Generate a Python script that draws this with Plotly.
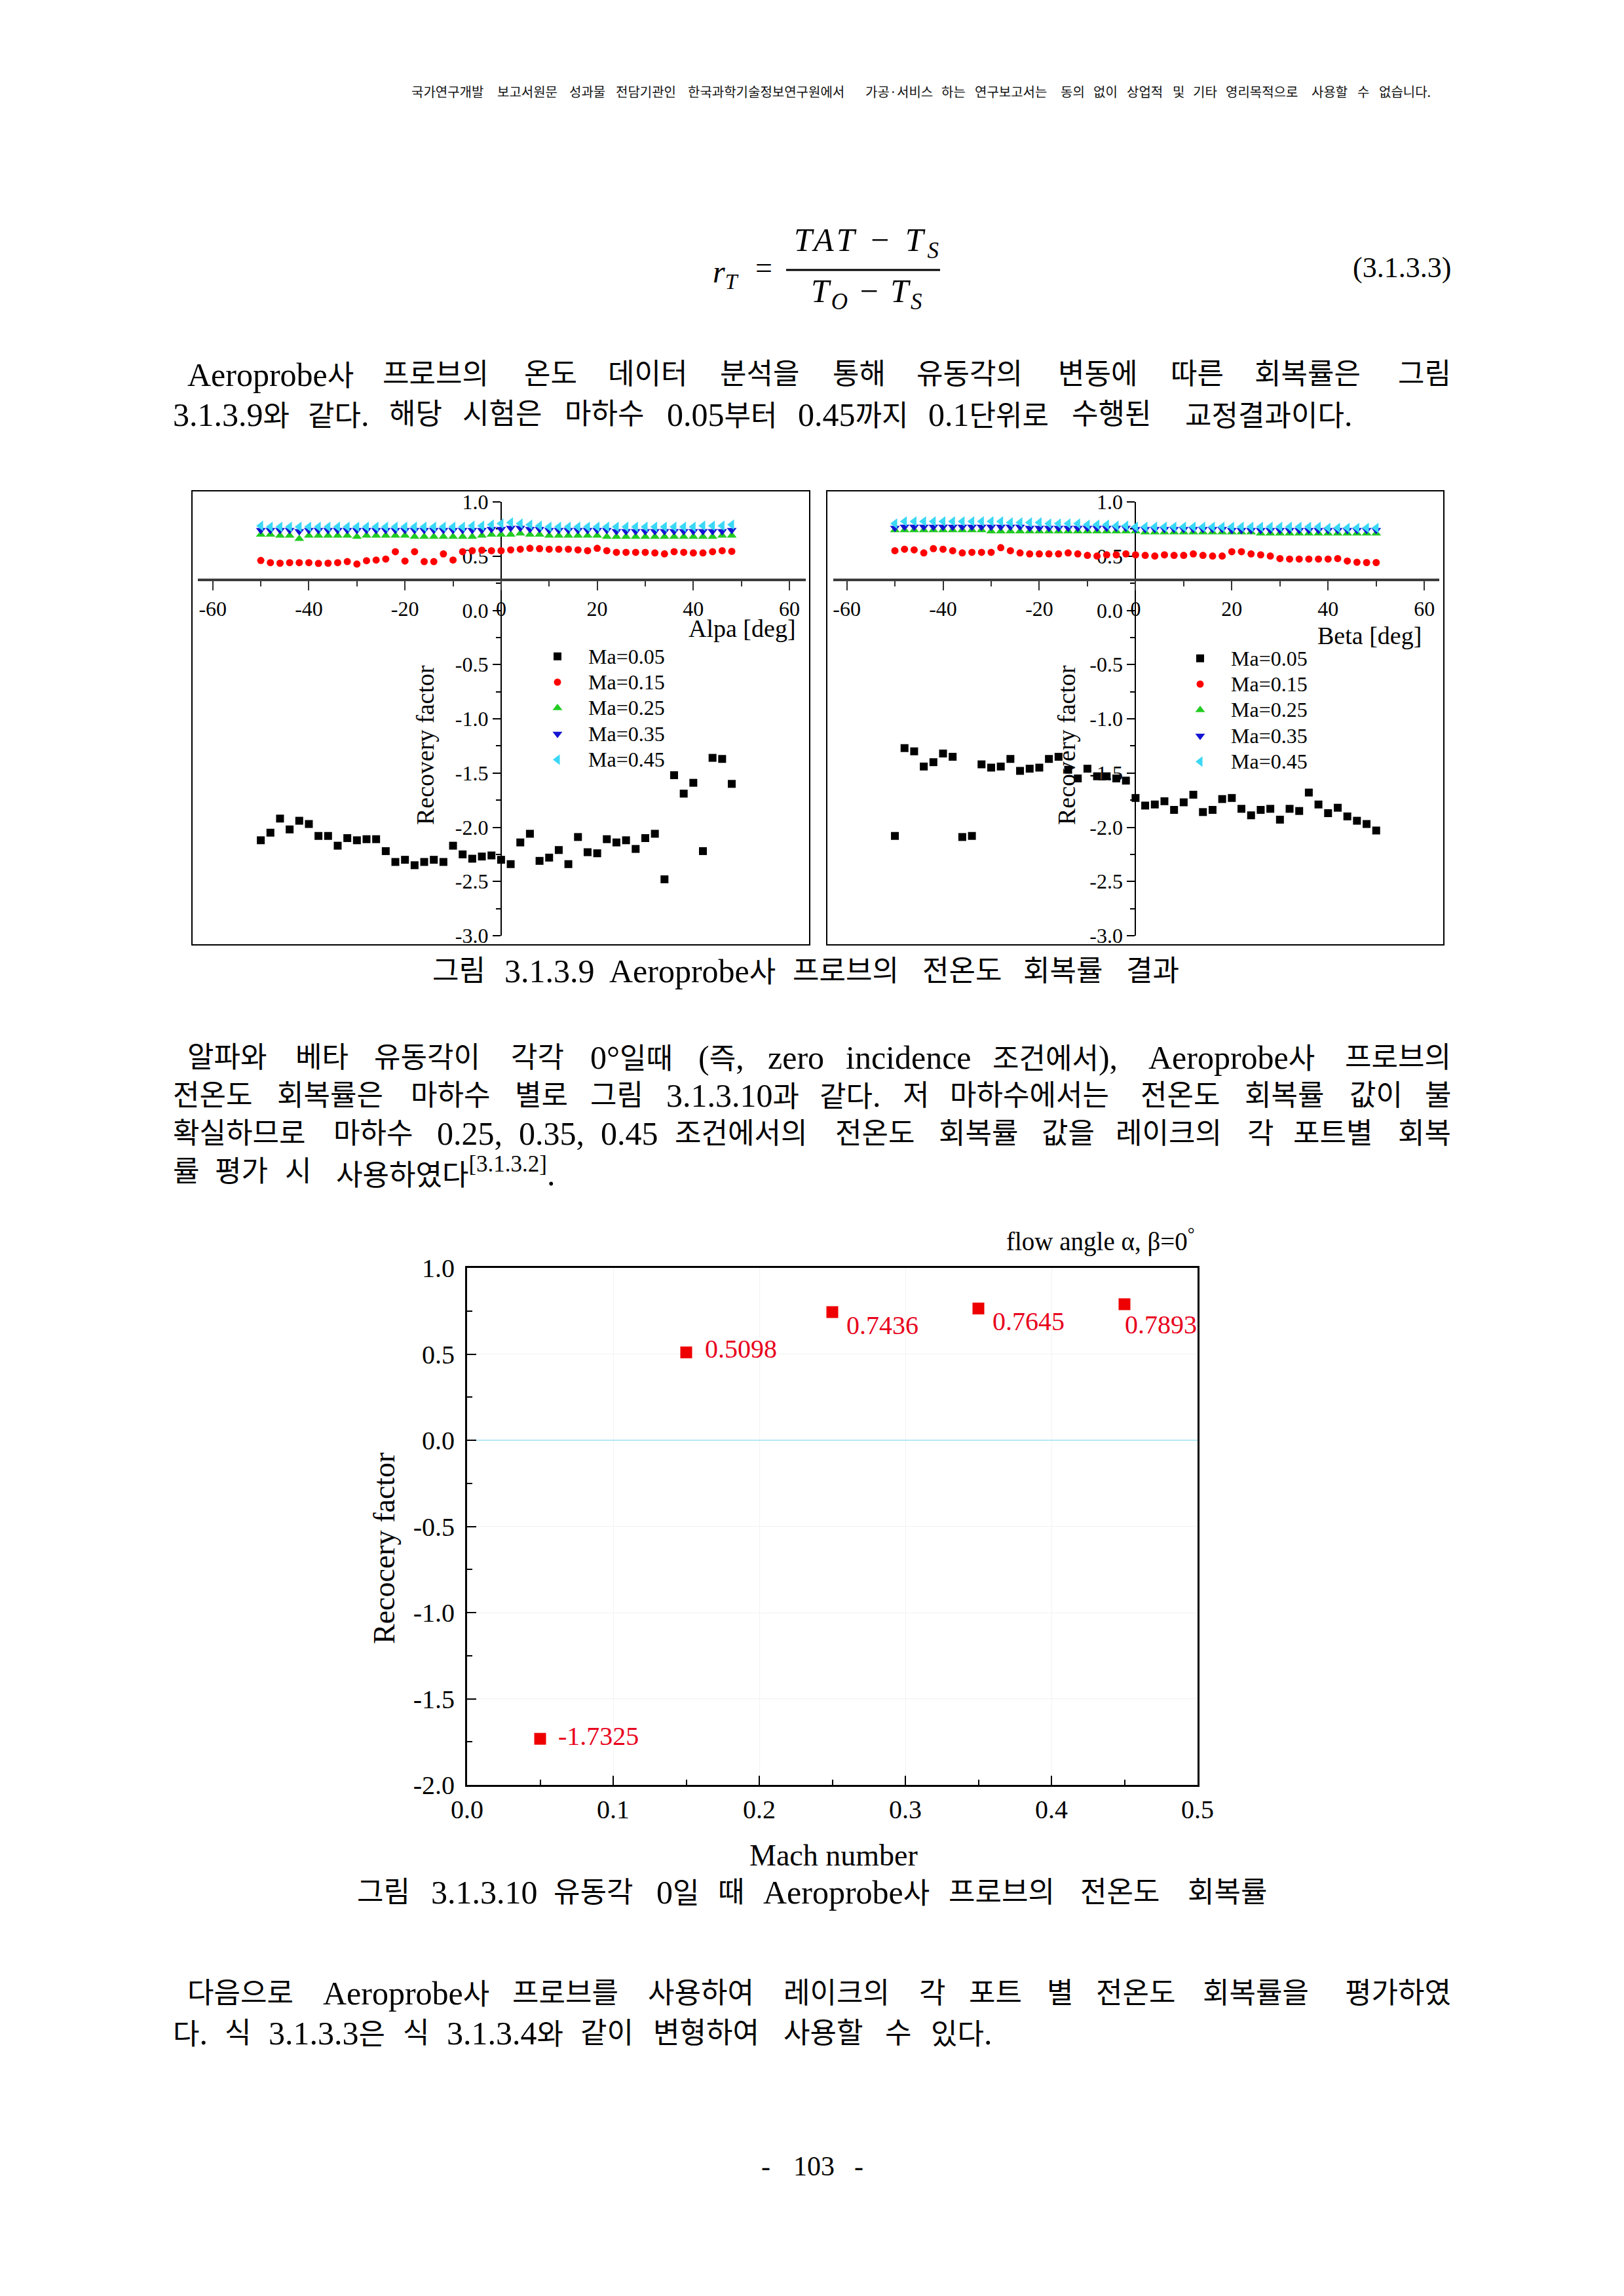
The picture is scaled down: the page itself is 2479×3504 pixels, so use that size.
import re
import plotly.graph_objects as go

W, H = 2479, 3504

# ------------------------------------------------------------------ data
SERIES_NAMES = ["Ma=0.05", "Ma=0.15", "Ma=0.25", "Ma=0.35", "Ma=0.45"]

ALPHA_DEG = [-50, -48, -46, -44, -42, -40, -38, -36, -34, -32,
             -30, -28, -26, -24, -22, -20, -18, -16, -14, -12,
             -10, -8, -6, -4, -2, 0, 2, 4, 6, 8,
             10, 12, 14, 16, 18, 20, 22, 24, 26, 28,
             30, 32, 34, 36, 38, 40, 42, 44, 46, 48]

A_MA005 = [-2.12, -2.05, -1.92, -2.02, -1.94, -1.97, -2.08, -2.08, -2.17, -2.10,
           -2.12, -2.11, -2.11, -2.22, -2.32, -2.30, -2.35, -2.32, -2.30, -2.32,
           -2.17, -2.25, -2.29, -2.27, -2.26, -2.30, -2.34, -2.14, -2.06, -2.31,
           -2.28, -2.21, -2.34, -2.09, -2.23, -2.24, -2.11, -2.14, -2.12, -2.20,
           -2.10, -2.06, -2.48, -1.52, -1.69, -1.59, -2.22, -1.36, -1.37, -1.60]
A_MA015 = [0.46, 0.44, 0.435, 0.44, 0.44, 0.44, 0.433, 0.435, 0.44, 0.45,
           0.427, 0.458, 0.464, 0.473, 0.541, 0.455, 0.541, 0.45, 0.45, 0.521,
           0.464, 0.541, 0.55, 0.555, 0.55, 0.55, 0.558, 0.564, 0.572, 0.569,
           0.564, 0.564, 0.564, 0.558, 0.55, 0.572, 0.55, 0.535, 0.535, 0.535,
           0.535, 0.53, 0.521, 0.541, 0.535, 0.53, 0.53, 0.541, 0.55, 0.544]
A_MA025 = [0.70, 0.70, 0.69, 0.69, 0.66, 0.69, 0.69, 0.69, 0.69, 0.69,
           0.68, 0.69, 0.69, 0.69, 0.69, 0.69, 0.68, 0.68, 0.68, 0.68,
           0.68, 0.68, 0.68, 0.69, 0.70, 0.70, 0.70, 0.71, 0.70, 0.70,
           0.69, 0.69, 0.69, 0.69, 0.69, 0.69, 0.68, 0.68, 0.68, 0.68,
           0.68, 0.68, 0.68, 0.68, 0.68, 0.68, 0.68, 0.68, 0.69, 0.69]
A_MA035 = [0.74, 0.74, 0.74, 0.74, 0.73, 0.74, 0.74, 0.74, 0.74, 0.74,
           0.74, 0.74, 0.74, 0.74, 0.74, 0.74, 0.74, 0.74, 0.74, 0.74,
           0.74, 0.74, 0.74, 0.74, 0.75, 0.75, 0.76, 0.76, 0.75, 0.75,
           0.74, 0.74, 0.74, 0.74, 0.74, 0.74, 0.74, 0.73, 0.73, 0.73,
           0.73, 0.73, 0.73, 0.73, 0.73, 0.73, 0.73, 0.73, 0.73, 0.74]
A_MA045 = [0.78, 0.77, 0.77, 0.77, 0.77, 0.77, 0.77, 0.77, 0.77, 0.77,
           0.77, 0.77, 0.77, 0.77, 0.77, 0.77, 0.77, 0.77, 0.77, 0.77,
           0.77, 0.77, 0.78, 0.78, 0.79, 0.80, 0.81, 0.80, 0.79, 0.78,
           0.77, 0.77, 0.77, 0.77, 0.77, 0.77, 0.77, 0.77, 0.77, 0.77,
           0.77, 0.77, 0.77, 0.77, 0.77, 0.77, 0.78, 0.78, 0.78, 0.79]

BETA_DEG = [-50, -48, -46, -44, -42, -40, -38, -36, -34, -32,
            -30, -28, -26, -24, -22, -20, -18, -16, -14, -12,
            -10, -8, -6, -4, -2, 0, 2, 4, 6, 8,
            10, 12, 14, 16, 18, 20, 22, 24, 26, 28,
            30, 32, 34, 36, 38, 40, 42, 44, 46, 48, 50]

B_MA005 = [-2.08, -1.27, -1.30, -1.44, -1.40, -1.32, -1.35, -2.09, -2.08, -1.42,
           -1.45, -1.44, -1.37, -1.48, -1.46, -1.45, -1.37, -1.35, -1.47, -1.55,
           -1.46, -1.53, -1.53, -1.55, -1.57, -1.73, -1.80, -1.79, -1.76, -1.84,
           -1.77, -1.70, -1.86, -1.84, -1.74, -1.73, -1.83, -1.89, -1.84, -1.83,
           -1.93, -1.83, -1.85, -1.68, -1.79, -1.87, -1.82, -1.90, -1.94, -1.97, -2.03]
B_MA015 = [0.55, 0.564, 0.558, 0.53, 0.569, 0.564, 0.55, 0.53, 0.535, 0.535,
           0.535, 0.578, 0.55, 0.53, 0.521, 0.521, 0.521, 0.521, 0.53, 0.521,
           0.507, 0.501, 0.512, 0.512, 0.521, 0.512, 0.507, 0.501, 0.512, 0.507,
           0.507, 0.521, 0.507, 0.501, 0.501, 0.541, 0.541, 0.521, 0.512, 0.501,
           0.478, 0.473, 0.473, 0.473, 0.473, 0.473, 0.478, 0.455, 0.444, 0.441, 0.441]
B_MA025 = [0.74, 0.74, 0.74, 0.74, 0.74, 0.74, 0.74, 0.74, 0.74, 0.74,
           0.73, 0.73, 0.73, 0.73, 0.73, 0.73, 0.73, 0.73, 0.73, 0.73,
           0.73, 0.73, 0.73, 0.73, 0.73, 0.73, 0.72, 0.72, 0.72, 0.72,
           0.72, 0.72, 0.72, 0.72, 0.72, 0.72, 0.72, 0.72, 0.71, 0.71,
           0.71, 0.71, 0.71, 0.71, 0.71, 0.71, 0.71, 0.71, 0.71, 0.71, 0.71]
B_MA035 = [0.76, 0.77, 0.77, 0.77, 0.77, 0.77, 0.77, 0.77, 0.77, 0.77,
           0.77, 0.77, 0.77, 0.77, 0.76, 0.76, 0.76, 0.76, 0.76, 0.76,
           0.76, 0.76, 0.76, 0.76, 0.76, 0.75, 0.75, 0.75, 0.75, 0.75,
           0.75, 0.75, 0.75, 0.75, 0.75, 0.74, 0.74, 0.74, 0.74, 0.74,
           0.74, 0.74, 0.74, 0.74, 0.74, 0.74, 0.74, 0.74, 0.74, 0.74, 0.74]
B_MA045 = [0.80, 0.82, 0.82, 0.82, 0.82, 0.82, 0.82, 0.82, 0.82, 0.82,
           0.82, 0.82, 0.81, 0.81, 0.81, 0.81, 0.80, 0.80, 0.80, 0.80,
           0.79, 0.79, 0.79, 0.78, 0.78, 0.77, 0.77, 0.77, 0.77, 0.77,
           0.77, 0.77, 0.77, 0.77, 0.77, 0.77, 0.77, 0.77, 0.77, 0.77,
           0.77, 0.77, 0.77, 0.77, 0.77, 0.76, 0.76, 0.76, 0.76, 0.76, 0.76]

ANGLE_TICKS = [-60, -40, -20, 0, 20, 40, 60]
ANGLE_MINOR = [-50, -30, -10, 10, 30, 50]
RF_TICKS = [-3.0, -2.5, -2.0, -1.5, -1.0, -0.5, 0.0, 0.5, 1.0]
RF_MINOR = [-2.75, -2.25, -1.75, -1.25, -0.75, -0.25, 0.25, 0.75]

MACH = [0.05, 0.15, 0.25, 0.35, 0.45]
RECOVERY_ZERO = [-1.7325, 0.5098, 0.7436, 0.7645, 0.7893]
MACH_TICKS = [0.0, 0.1, 0.2, 0.3, 0.4, 0.5]
MACH_MINOR = [0.05, 0.15, 0.25, 0.35, 0.45]
RF3_TICKS = [-2.0, -1.5, -1.0, -0.5, 0.0, 0.5, 1.0]
RF3_MINOR = [-1.75, -1.25, -0.75, -0.25, 0.25, 0.75]

# ------------------------------------------------------------------ helpers
SERIF = "Liberation Serif"
BODY = "Liberation Serif, Noto Sans CJK KR"
KR = "Noto Sans CJK KR"


def fx(px):
    return px / W


def fy(py):
    return 1 - py / H


annotations = []
shapes = []


def text(s, x, y, size, anchor="left", family=BODY, color="black", angle=0):
    annotations.append(dict(text=s, x=fx(x), y=fy(y), xref="paper", yref="paper",
                            xanchor=anchor, yanchor="middle", showarrow=False,
                            textangle=angle,
                            font=dict(family=family, size=size, color=color)))


LATIN_W = {'.': 0.25, ',': 0.25, '(': 0.333, ')': 0.333, '[': 0.333, ']': 0.333,
           '°': 0.4, '·': 0.3, 'A': 0.722, 'a': 0.444, 'b': 0.5, 'c': 0.444,
           'd': 0.5, 'e': 0.444, 'i': 0.278, 'n': 0.5, 'o': 0.5, 'p': 0.5,
           'r': 0.333, 'z': 0.444, '-': 0.333}


def is_hangul(ch):
    return '\uac00' <= ch <= '\ud7a3'


def est_width(s, lat, kr):
    total, scale = 0.0, 1.0
    for part in re.split(r'(<sup>|</sup>)', s):
        if part == '<sup>':
            scale = 0.7
            continue
        if part == '</sup>':
            scale = 1.0
            continue
        for ch in part:
            if is_hangul(ch):
                total += kr * scale
            elif ch.isdigit():
                total += 0.5 * lat * scale
            else:
                total += LATIN_W.get(ch, 0.5) * lat * scale
    return total


def kr_wrap(word, kr):
    return re.sub(r'([\uac00-\ud7a3]+)',
                  lambda m: f'<span style="font-size:{kr}px">{m.group(1)}</span>', word)


def line(s, x0, x1, y, lat, kr, family=BODY, color="black"):
    words = s.split(" ")
    widths = [est_width(w, lat, kr) for w in words]
    gap = (x1 - x0 - sum(widths)) / max(len(words) - 1, 1)
    x = x0
    for i, (w, wd) in enumerate(zip(words, widths)):
        t = kr_wrap(w, kr) if kr != lat else w
        if i == len(words) - 1 and len(words) > 1:
            text(t, x1, y, lat, anchor="right", family=family, color=color)
        else:
            text(t, x, y, lat, family=family, color=color)
        x += wd + gap


# ------------------------------------------------------------------ figure
fig = go.Figure()

styles = [
    dict(symbol="square", color="#000000", size=12),
    dict(symbol="circle", color="#ff0000", size=11),
    dict(symbol="triangle-up", color="#22cc22", size=13),
    dict(symbol="triangle-down", color="#1414d2", size=13),
    dict(symbol="triangle-left", color="#3ad8f5", size=14),
]


def legend_label(name):
    return f'<span style="font-size:32px">{name}</span>'


for name, ys, st in zip(SERIES_NAMES, [A_MA005, A_MA015, A_MA025, A_MA035, A_MA045], styles):
    fig.add_trace(go.Scatter(x=ALPHA_DEG, y=ys, mode="markers", name=legend_label(name),
                             marker=dict(symbol=st["symbol"], color=st["color"], size=st["size"],
                                         line=dict(width=0)),
                             xaxis="x", yaxis="y", legend="legend"))

for name, ys, st in zip(SERIES_NAMES, [B_MA005, B_MA015, B_MA025, B_MA035, B_MA045], styles):
    fig.add_trace(go.Scatter(x=BETA_DEG, y=ys, mode="markers", name=legend_label(name),
                             marker=dict(symbol=st["symbol"], color=st["color"], size=st["size"],
                                         line=dict(width=0)),
                             xaxis="x2", yaxis="y2", legend="legend2"))

fig.add_trace(go.Scatter(
    x=MACH, y=RECOVERY_ZERO, mode="markers",
    marker=dict(symbol="square", color="#ee0000", size=18, line=dict(width=0)),
    cliponaxis=False, showlegend=False, xaxis="x3", yaxis="y3"))

# value labels next to each point (pixel offsets from the point)
LABEL_SHIFT = [(25, 4), (26, 5), (19, -20), (19, -20), (-2, -31)]
for xv, yv, (dx, dy) in zip(MACH, RECOVERY_ZERO, LABEL_SHIFT):
    annotations.append(dict(text=f"{yv:.4f}", x=xv, y=yv, xref="x3", yref="y3",
                            xanchor="left", yanchor="middle", xshift=dx, yshift=dy,
                            showarrow=False,
                            font=dict(family=SERIF, size=40, color="#e8001c")))


def angle_axes(xdom_px, xrange, ytop, ybot, cross_val):
    yr = [-3.0, 1.0]
    ypx_cross = ybot - (cross_val - yr[0]) / (yr[1] - yr[0]) * (ybot - ytop)
    xpx_zero = xdom_px[0] + (0 - xrange[0]) / (xrange[1] - xrange[0]) * (xdom_px[1] - xdom_px[0])
    xa = dict(domain=[fx(xdom_px[0]), fx(xdom_px[1])], range=xrange, anchor="free",
              position=fy(ypx_cross), side="bottom", showline=True, linecolor="#3c3c3c",
              linewidth=4, ticks="outside", ticklen=14, tickwidth=2, tickcolor="#333333",
              tickvals=ANGLE_TICKS, ticktext=[str(v) for v in ANGLE_TICKS],
              tickfont=dict(family=SERIF, size=32, color="black"),
              minor=dict(tickvals=ANGLE_MINOR, ticks="outside", ticklen=8, tickwidth=2,
                         tickcolor="#333333"),
              showgrid=False, zeroline=False, automargin=False)
    ya = dict(domain=[fy(ybot), fy(ytop)], range=yr, anchor="free", position=fx(xpx_zero),
              side="left", showline=True, linecolor="black", linewidth=2, ticks="outside",
              ticklen=12, tickwidth=2, tickcolor="black",
              tickvals=RF_TICKS, ticktext=[f"{v:.1f}" for v in RF_TICKS],
              tickfont=dict(family=SERIF, size=32, color="black"),
              minor=dict(tickvals=RF_MINOR, ticks="outside", ticklen=7, tickwidth=2,
                         tickcolor="black"),
              showgrid=False, zeroline=False, layer="below traces", automargin=False)
    return xa, ya


xa1, ya1 = angle_axes((302, 1230), [-63.1, 63.4], 766, 1428, 0.28)
xa2, ya2 = angle_axes((1272, 2197), [-62.8, 63.1], 766, 1428, 0.28)

xa3 = dict(domain=[fx(713), fx(1828)], range=[0, 0.5], anchor="y3", showline=True, mirror=True,
           linecolor="black", linewidth=3, ticks="inside", ticklen=14, tickwidth=2,
           tickcolor="black", tickvals=MACH_TICKS, ticktext=[f"{v:.1f}" for v in MACH_TICKS],
           tickfont=dict(family=SERIF, size=40, color="black"), ticklabelstandoff=0,
           minor=dict(tickvals=MACH_MINOR, ticks="inside", ticklen=8, tickwidth=2,
                      tickcolor="black", showgrid=False),
           showgrid=True, gridcolor="#f2f2f2", gridwidth=1, zeroline=False, automargin=False)
ya3 = dict(domain=[fy(2724), fy(1935)], range=[-2.0, 1.0], anchor="x3", showline=True,
           mirror=True, linecolor="black", linewidth=3, ticks="inside", ticklen=14,
           tickwidth=2, tickcolor="black", tickvals=RF3_TICKS,
           ticktext=[f"{v:.1f}" for v in RF3_TICKS],
           tickfont=dict(family=SERIF, size=40, color="black"), ticklabelstandoff=8,
           minor=dict(tickvals=RF3_MINOR, ticks="inside", ticklen=8, tickwidth=2,
                      tickcolor="black", showgrid=False),
           showgrid=True, gridcolor="#f2f2f2", gridwidth=1,
           zeroline=True, zerolinecolor="#b3e9f4", zerolinewidth=2, automargin=False)

# chart frames
for x0, x1 in [(293, 1236), (1262, 2204)]:
    shapes.append(dict(type="rect", xref="paper", yref="paper", x0=fx(x0), x1=fx(x1),
                       y0=fy(1442), y1=fy(749), line=dict(color="black", width=2)))

# chart labels
text("Alpa [deg]", 1217, 959, 38, anchor="right", family=SERIF)
text("Recovery factor", 649, 1137, 38, anchor="center", family=SERIF, angle=-90)
text("Beta [deg]", 2172, 970, 38, anchor="right", family=SERIF)
text("Recovery factor", 1628, 1137, 38, anchor="center", family=SERIF, angle=-90)
text("flow angle α, β=0<sup>°</sup>", 1826, 1893, 39, anchor="right", family=SERIF)
text("Mach number", 1272, 2831, 46, anchor="center", family=SERIF)
text("Recocery factor", 586, 2363, 46, anchor="center", family=SERIF, angle=-90)

# header
line("국가연구개발 보고서원문 성과물 전담기관인 한국과학기술정보연구원에서 가공·서비스 하는 "
     "연구보고서는 동의 없이 상업적 및 기타 영리목적으로 사용할 수 없습니다.",
     626, 2186, 139, 20, 20, family=KR, color="#111111")

# equation
text("<i>r</i><sub><i>T</i></sub>", 1086, 418, 48, family=SERIF)
text("=", 1166, 408, 46, anchor="center", family=SERIF)
text('<span style="letter-spacing:6px"><i>TAT</i> − <i>T</i><sub><i>S</i></sub></span>',
     1325, 370, 50, anchor="center", family=SERIF)
text('<span style="letter-spacing:3px"><i>T</i><sub><i>O</i></sub> − <i>T</i><sub><i>S</i></sub></span>',
     1324, 448, 50, anchor="center", family=SERIF)
shapes.append(dict(type="line", xref="paper", yref="paper", x0=fx(1200), x1=fx(1435),
                   y0=fy(412), y1=fy(412), line=dict(color="black", width=3)))
text("(3.1.3.3)", 2217, 409, 44, anchor="right", family=SERIF)

# body text
BODY_LINES = [
    ("Aeroprobe사 프로브의 온도 데이터 분석을 통해 유동각의 변동에 따른 회복률은 그림", 284, 2217, 572),
    ("3.1.3.9와 같다. 해당 시험은 마하수 0.05부터 0.45까지 0.1단위로 수행된 교정결과이다.", 262, 2066, 633),
    ("그림 3.1.3.9 Aeroprobe사 프로브의 전온도 회복률 결과", 658, 1802, 1482),
    ("알파와 베타 유동각이 각각 0°일때 (즉, zero incidence 조건에서), Aeroprobe사 프로브의", 284, 2217, 1614),
    ("전온도 회복률은 마하수 별로 그림 3.1.3.10과 같다. 저 마하수에서는 전온도 회복률 값이 불", 262, 2217, 1672),
    ("확실하므로 마하수 0.25, 0.35, 0.45 조건에서의 전온도 회복률 값을 레이크의 각 포트별 회복", 262, 2217, 1730),
    ("률 평가 시 사용하였다<sup>[3.1.3.2]</sup>.", 262, 849, 1788),
    ("그림 3.1.3.10 유동각 0일 때 Aeroprobe사 프로브의 전온도 회복률", 543, 1936, 2888),
    ("다음으로 Aeroprobe사 프로브를 사용하여 레이크의 각 포트 별 전온도 회복률을 평가하였", 284, 2217, 3042),
    ("다. 식 3.1.3.3은 식 3.1.3.4와 같이 변형하여 사용할 수 있다.", 262, 1516, 3103),
]
for s, x0, x1, y in BODY_LINES:
    line(s, x0, x1, y, 50, 44)

# page number
text("-", 1169, 3306, 42, anchor="center", family=SERIF)
text("103", 1242, 3306, 42, anchor="center", family=SERIF)
text("-", 1311, 3306, 42, anchor="center", family=SERIF)

legend_common = dict(xanchor="left", yanchor="top", bgcolor="rgba(0,0,0,0)", borderwidth=0,
                     font=dict(family=SERIF, size=28, color="black"), itemwidth=84,
                     tracegroupgap=0, itemsizing="trace")

fig.update_layout(
    width=W, height=H, autosize=False,
    margin=dict(l=0, r=0, t=0, b=0, pad=0, autoexpand=False),
    paper_bgcolor="white", plot_bgcolor="white",
    showlegend=True,
    xaxis=xa1, yaxis=ya1, xaxis2=xa2, yaxis2=ya2, xaxis3=xa3, yaxis3=ya3,
    legend=dict(x=fx(804), y=fy(977), **legend_common),
    legend2=dict(x=fx(1785), y=fy(980), **legend_common),
    annotations=annotations, shapes=shapes,
)

fig.write_html("out.html")
